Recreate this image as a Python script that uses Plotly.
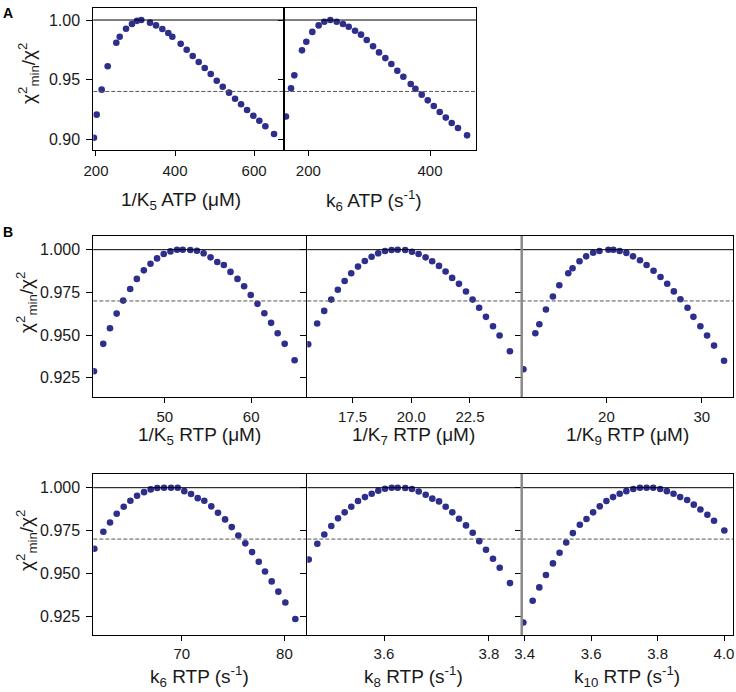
import plotly.graph_objects as go

W, H = 736, 692

# ---------------- data ----------------
A_K5_ATP_X = [194.9, 201.7, 214.4, 229.6, 251.4, 260.0, 276.0, 291.0, 303.8, 314.7, 336.7, 351.9, 367.9, 383.0,
              393.2, 414.3, 429.5, 444.8, 460.0, 475.2, 490.4, 505.6, 520.8, 536.7, 551.9, 567.1, 582.3, 598.2,
              613.4, 628.6, 650.6]
A_K5_ATP_Y = [0.9011, 0.9205, 0.9415, 0.9611, 0.9809, 0.9860, 0.9927, 0.9966, 0.9993, 1.0000, 0.9978, 0.9955,
              0.9924, 0.9891, 0.9860, 0.9800, 0.9750, 0.9698, 0.9647, 0.9597, 0.9546, 0.9490, 0.9440, 0.9390,
              0.9339, 0.9292, 0.9244, 0.9196, 0.9154, 0.9107, 0.9042]

A_K6_ATP_X = [163.3, 171.6, 177.0, 189.6, 196.7, 206.6, 217.0, 226.3, 236.2, 246.7, 257.0, 266.4, 276.8, 286.6,
              296.0, 306.4, 316.2, 326.6, 336.5, 346.3, 356.2, 368.3, 376.0, 386.4, 396.3, 406.2, 416.0, 425.9,
              435.7, 446.0, 460.9]
A_K6_ATP_Y = [0.9190, 0.9426, 0.9535, 0.9745, 0.9818, 0.9900, 0.9955, 0.9986, 1.0000, 0.9986, 0.9966, 0.9944,
              0.9910, 0.9877, 0.9832, 0.9780, 0.9728, 0.9680, 0.9630, 0.9574, 0.9524, 0.9462, 0.9423, 0.9373,
              0.9325, 0.9278, 0.9227, 0.9180, 0.9135, 0.9093, 0.9031]

B_K5_RTP_X = [41.81, 42.88, 43.66, 44.43, 45.19, 46.00, 46.77, 47.58, 48.35, 49.11, 49.88, 50.66, 51.42, 52.08,
              52.96, 53.73, 54.50, 55.30, 56.08, 56.84, 57.61, 58.42, 59.19, 59.95, 60.73, 61.53, 62.31, 63.07,
              63.88, 65.03]
B_K5_RTP_Y = [0.9289, 0.9449, 0.9540, 0.9626, 0.9702, 0.9770, 0.9829, 0.9879, 0.9918, 0.9949, 0.9975, 0.9990,
              1.0000, 1.0000, 0.9998, 0.9994, 0.9979, 0.9955, 0.9928, 0.9910, 0.9870, 0.9829, 0.9786, 0.9735,
              0.9683, 0.9628, 0.9572, 0.9511, 0.9449, 0.9353]

B_K7_RTP_X = [15.61, 15.99, 16.29, 16.59, 16.87, 17.16, 17.44, 17.73, 18.02, 18.31, 18.59, 18.88, 19.16, 19.42,
              19.74, 20.03, 20.31, 20.61, 20.89, 21.18, 21.46, 21.74, 22.03, 22.33, 22.61, 22.89, 23.18, 23.48,
              23.76, 24.20]
B_K7_RTP_Y = [0.9447, 0.9568, 0.9642, 0.9708, 0.9766, 0.9817, 0.9862, 0.9901, 0.9934, 0.9959, 0.9979, 0.9992,
              0.9998, 1.0000, 0.9998, 0.9988, 0.9975, 0.9955, 0.9932, 0.9905, 0.9872, 0.9835, 0.9800, 0.9755,
              0.9708, 0.9660, 0.9607, 0.9552, 0.9498, 0.9406]

B_K9_RTP_X = [11.30, 12.55, 12.97, 13.66, 14.39, 15.06, 16.00, 16.45, 17.18, 17.88, 18.61, 19.27, 20.21, 20.73,
              21.39, 22.09, 22.79, 23.52, 24.21, 24.94, 25.67, 26.37, 27.07, 27.76, 28.50, 29.12, 29.85, 30.55,
              31.28, 32.33]
B_K9_RTP_Y = [0.9301, 0.9511, 0.9564, 0.9650, 0.9726, 0.9792, 0.9862, 0.9891, 0.9932, 0.9961, 0.9982, 0.9992,
              1.0000, 1.0000, 0.9992, 0.9981, 0.9961, 0.9938, 0.9910, 0.9877, 0.9840, 0.9801, 0.9756, 0.9710,
              0.9660, 0.9607, 0.9552, 0.9498, 0.9439, 0.9350]

B_K6_RTP_X = [61.49, 62.37, 63.02, 63.67, 64.35, 65.00, 65.65, 66.33, 66.98, 67.62, 68.28, 68.96, 69.61, 70.25,
              70.91, 71.56, 72.20, 72.88, 73.53, 74.22, 74.87, 75.51, 76.19, 76.85, 77.50, 78.11, 78.76, 79.41,
              80.09, 81.06]
B_K6_RTP_Y = [0.9644, 0.9743, 0.9797, 0.9848, 0.9889, 0.9924, 0.9953, 0.9974, 0.9990, 0.9998, 1.0000, 1.0000,
              1.0000, 0.9980, 0.9963, 0.9939, 0.9924, 0.9891, 0.9854, 0.9815, 0.9770, 0.9721, 0.9675, 0.9624,
              0.9568, 0.9511, 0.9453, 0.9393, 0.9330, 0.9233]

B_K8_RTP_X = [3.4566, 3.4730, 3.4863, 3.4996, 3.5124, 3.5251, 3.5377, 3.5505, 3.5638, 3.5766, 3.5891, 3.6019,
              3.6147, 3.6261, 3.6406, 3.6533, 3.6661, 3.6794, 3.6920, 3.7048, 3.7175, 3.7301, 3.7429, 3.7562,
              3.7690, 3.7815, 3.7943, 3.8076, 3.8204, 3.8400]
B_K8_RTP_Y = [0.9581, 0.9673, 0.9727, 0.9776, 0.9821, 0.9856, 0.9889, 0.9922, 0.9945, 0.9965, 0.9982, 0.9994,
              1.0000, 1.0000, 0.9998, 0.9992, 0.9978, 0.9959, 0.9936, 0.9920, 0.9889, 0.9856, 0.9819, 0.9780,
              0.9737, 0.9688, 0.9638, 0.9585, 0.9533, 0.9443]

B_K10_RTP_X = [3.396, 3.424, 3.444, 3.464, 3.485, 3.505, 3.525, 3.545, 3.566, 3.586, 3.606, 3.626, 3.646, 3.666,
               3.686, 3.706, 3.727, 3.747, 3.767, 3.787, 3.808, 3.828, 3.848, 3.868, 3.889, 3.909, 3.929, 3.950,
               3.970, 4.001]
B_K10_RTP_Y = [0.9213, 0.9340, 0.9418, 0.9490, 0.9558, 0.9620, 0.9680, 0.9735, 0.9784, 0.9817, 0.9856, 0.9891,
               0.9922, 0.9945, 0.9965, 0.9980, 0.9992, 1.0000, 1.0000, 1.0000, 0.9992, 0.9980, 0.9965, 0.9945,
               0.9928, 0.9901, 0.9873, 0.9842, 0.9807, 0.9750]

X_TITLES = ["1/K<sub>5</sub> ATP (μM)", "k<sub>6</sub> ATP (s<sup>-1</sup>)",
            "1/K<sub>5</sub> RTP (μM)", "1/K<sub>7</sub> RTP (μM)", "1/K<sub>9</sub> RTP (μM)",
            "k<sub>6</sub> RTP (s<sup>-1</sup>)", "k<sub>8</sub> RTP (s<sup>-1</sup>)",
            "k<sub>10</sub> RTP (s<sup>-1</sup>)"]
Y_TITLE = "χ<sup>2</sup><sub>min</sub>/χ<sup>2</sup>"

X_TICKS = [[200, 400, 600], [200, 400], [50, 60], [17.5, 20.0, 22.5], [20, 30],
           [70, 80], [3.6, 3.8], [3.4, 3.6, 3.8, 4.0]]
X_TICKFMT = ["d", "d", "d", ".1f", "d", "d", ".1f", ".1f"]
Y_TICKS_A = [0.90, 0.95, 1.00]
Y_TICKS_B = [0.925, 0.950, 0.975, 1.000]

MAX_RATIO = 1.0
CUTOFF_A = 0.94
CUTOFF_B = 0.97

# ---------------- layout (pixel geometry) ----------------
COLS_A = [(93.3, 283.3), (285.0, 476.0)]
COLS_B = [(93.3, 306.0), (307.3, 520.7), (521.7, 733.3)]
ROW_A = (8, 150)
ROW_B1 = (236, 396.7)
ROW_B2 = (474, 635)

X_RANGES = [[193.2, 674.0], [161.7, 475.6], [41.73, 66.35], [15.57, 24.66], [11.12, 33.3],
            [61.39, 82.1], [3.4539, 3.8604], [3.391, 4.028]]
Y_RANGE_A = [0.8908, 1.0101]
Y_RANGE_B = [0.9140, 1.0080]

# title positions (pixels, centre)
X_TITLE_POS = [(181, 201), (374, 201), (199, 436), (413, 436), (627, 436),
               (199, 676), (413, 676), (627, 676)]
Y_TITLE_POS = [(28, 73), (26, 302), (26, 540)]
X_LABEL_SHIFT = [2, 2, 1, 1, 1, 0, 0, 0]

series = [
    (A_K5_ATP_X, A_K5_ATP_Y, COLS_A[0], ROW_A, Y_RANGE_A, Y_TICKS_A, ".2f", True, CUTOFF_A),
    (A_K6_ATP_X, A_K6_ATP_Y, COLS_A[1], ROW_A, Y_RANGE_A, Y_TICKS_A, ".2f", False, CUTOFF_A),
    (B_K5_RTP_X, B_K5_RTP_Y, COLS_B[0], ROW_B1, Y_RANGE_B, Y_TICKS_B, ".3f", True, CUTOFF_B),
    (B_K7_RTP_X, B_K7_RTP_Y, COLS_B[1], ROW_B1, Y_RANGE_B, Y_TICKS_B, ".3f", False, CUTOFF_B),
    (B_K9_RTP_X, B_K9_RTP_Y, COLS_B[2], ROW_B1, Y_RANGE_B, Y_TICKS_B, ".3f", False, CUTOFF_B),
    (B_K6_RTP_X, B_K6_RTP_Y, COLS_B[0], ROW_B2, Y_RANGE_B, Y_TICKS_B, ".3f", True, CUTOFF_B),
    (B_K8_RTP_X, B_K8_RTP_Y, COLS_B[1], ROW_B2, Y_RANGE_B, Y_TICKS_B, ".3f", False, CUTOFF_B),
    (B_K10_RTP_X, B_K10_RTP_Y, COLS_B[2], ROW_B2, Y_RANGE_B, Y_TICKS_B, ".3f", False, CUTOFF_B),
]

FONT = "Liberation Sans, Arial, Helvetica, sans-serif"
DOT = "#2e2e8c"
TXT = "#1a1a1a"

fig = go.Figure()
layout = dict(
    width=W, height=H, margin=dict(l=0, r=0, t=0, b=0),
    paper_bgcolor="white", plot_bgcolor="white", showlegend=False,
    font=dict(family=FONT, color=TXT, size=14),
)
shapes = []
annotations = []

for i, (xs, ys, (x0, x1), (yt, yb), yr, yt_vals, yfmt, ylab, cut) in enumerate(series, start=1):
    sfx = "" if i == 1 else str(i)
    fig.add_trace(go.Scatter(
        x=xs, y=ys, mode="markers", xaxis="x" + sfx, yaxis="y" + sfx,
        marker=dict(color=DOT, size=6.6, line=dict(width=0)),
        cliponaxis=True, hoverinfo="x+y",
    ))
    layout["xaxis" + sfx] = dict(
        domain=[x0 / W, x1 / W], anchor="y" + sfx, range=X_RANGES[i - 1],
        tickvals=X_TICKS[i - 1], tickformat=X_TICKFMT[i - 1],
        ticks="outside", ticklen=5, tickwidth=1, tickcolor="black",
        ticklabelstandoff=X_LABEL_SHIFT[i - 1],
        showline=True, linecolor="black", linewidth=1, mirror=True,
        showgrid=False, zeroline=False, automargin=False,
        tickfont=dict(size=15, family=FONT, color=TXT),
    )
    layout["yaxis" + sfx] = dict(
        domain=[1 - yb / H, 1 - yt / H], anchor="x" + sfx, range=yr,
        tickvals=yt_vals, tickformat=yfmt, showticklabels=ylab,
        ticks="outside", ticklen=6, tickwidth=1, tickcolor="black",
        ticklabelstandoff=3,
        showline=True, linecolor="black", linewidth=1, mirror=True,
        showgrid=False, zeroline=False, automargin=False,
        tickfont=dict(size=16, family=FONT, color=TXT),
    )
    shapes.append(dict(type="line", xref=("x" + sfx) + " domain", yref="y" + sfx,
                       x0=0, x1=1, y0=MAX_RATIO, y1=MAX_RATIO,
                       line=dict(color="black", width=1)))
    shapes.append(dict(type="line", xref=("x" + sfx) + " domain", yref="y" + sfx,
                       x0=0, x1=1, y0=cut, y1=cut,
                       line=dict(color="#555555", width=1, dash="4px,2px")))
    tx, ty = X_TITLE_POS[i - 1]
    annotations.append(dict(text=X_TITLES[i - 1], x=tx / W, y=1 - ty / H, xref="paper", yref="paper",
                            xanchor="center", yanchor="middle", showarrow=False,
                            font=dict(size=19, family=FONT, color=TXT)))

# grey separator at the left edge of the right-hand column in panel B
for sfx in ("5", "8"):
    shapes.append(dict(type="line", xref="x" + sfx + " domain", yref="y" + sfx + " domain",
                       x0=0, x1=0, y0=0, y1=1, line=dict(color="#8a8a8a", width=2.5)))

for (tx, ty) in Y_TITLE_POS:
    annotations.append(dict(text=Y_TITLE, x=tx / W, y=1 - ty / H, xref="paper", yref="paper",
                            xanchor="center", yanchor="middle", textangle=-90, showarrow=False,
                            font=dict(size=19, family=FONT, color=TXT)))

annotations += [
    dict(text="<b>A</b>", x=1 / W, y=1 - 3 / H, xref="paper", yref="paper",
         xanchor="left", yanchor="top", showarrow=False, font=dict(size=14, family=FONT, color="black")),
    dict(text="<b>B</b>", x=1 / W, y=1 - 222 / H, xref="paper", yref="paper",
         xanchor="left", yanchor="top", showarrow=False, font=dict(size=14, family=FONT, color="black")),
]
layout["shapes"] = shapes
layout["annotations"] = annotations
fig.update_layout(**layout)
fig.write_html("out.html", config={"displayModeBar": False},
               post_script="document.body.style.margin='0';document.body.style.overflow='hidden';")
